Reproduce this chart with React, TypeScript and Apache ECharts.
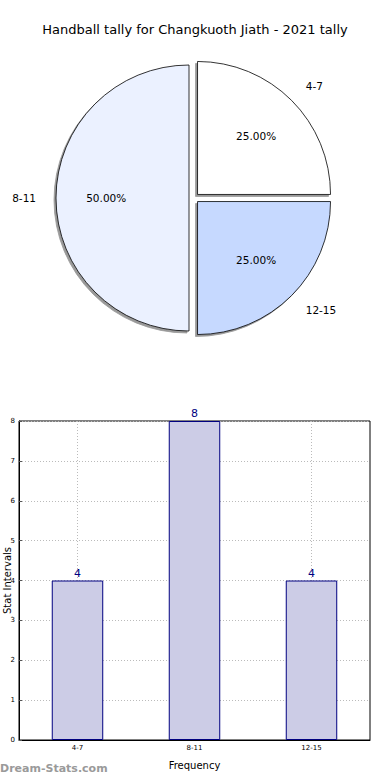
import React, { useEffect, useRef } from "react";
import * as echarts from "echarts";

const categories = ["4-7", "8-11", "12-15"];
const counts = [4, 8, 4];
const pieColors = ["#ffffff", "#ebf1ff", "#c6d9ff"];
const yTicks = [0, 1, 2, 3, 4, 5, 6, 7, 8];
const titleText = "Handball tally for Changkuoth Jiath - 2021 tally";

export default function App() {
  const ref = useRef<HTMLDivElement>(null);
  useEffect(() => {
    document.body.style.margin = "0";
    const chart = echarts.init(ref.current!, null, { renderer: "svg" });
    const font = "DejaVu Sans";
    const total = counts.reduce((a, b) => a + b, 0);
    const R = 133;
    const pieData = categories.map((c, i) => ({
      name: c,
      value: counts[i],
      selected: true,
      itemStyle: { color: pieColors[i] },
    }));
    chart.setOption({
      animation: false,
      textStyle: { fontFamily: font },
      title: {
        text: titleText,
        left: "center",
        top: 18,
        textStyle: { fontFamily: font, fontSize: 13, fontWeight: "normal", color: "#000" },
      },
      grid: {
        left: 19,
        right: 20,
        top: 421,
        bottom: 40,
        show: true,
        borderColor: "#000",
        borderWidth: 1,
        containLabel: false,
        outerBoundsMode: "none",
      },
      xAxis: {
        type: "category",
        data: categories,
        name: "Frequency",
        nameLocation: "middle",
        nameGap: 20,
        nameTextStyle: { fontFamily: font, fontSize: 10, color: "#000" },
        axisLine: { lineStyle: { color: "#000" } },
        axisTick: { show: true, alignWithLabel: true, inside: true, length: 3, lineStyle: { color: "#555" } },
        axisLabel: { fontFamily: font, fontSize: 7, color: "#000", margin: 4 },
        splitLine: { show: true, alignWithLabel: true, lineStyle: { color: "#bbb", type: [1, 2], width: 1 } },
      },
      yAxis: {
        type: "value",
        min: yTicks[0],
        max: yTicks[yTicks.length - 1],
        interval: 1,
        name: "Stat Intervals",
        nameLocation: "middle",
        nameGap: 7,
        nameMoveOverlap: false,
        nameTextStyle: { fontFamily: font, fontSize: 10, color: "#000" },
        axisLine: { show: true, lineStyle: { color: "#000" } },
        axisTick: { show: true, inside: true, length: 3, lineStyle: { color: "#555" } },
        axisLabel: { fontFamily: font, fontSize: 7, color: "#000", margin: 4 },
        splitLine: { show: true, lineStyle: { color: "#bbb", type: [1, 2], width: 1 } },
      },
      series: [
        {
          type: "pie",
          center: [194, 198],
          radius: [0, R],
          startAngle: 0,
          clockwise: false,
          selectedMode: "multiple",
          selectedOffset: 5,
          avoidLabelOverlap: false,
          silent: true,
          data: pieData,
          itemStyle: {
            borderColor: "#000",
            borderWidth: 0.8,
            shadowColor: "rgba(0,0,0,0.4)",
            shadowBlur: 0,
            shadowOffsetX: -2,
            shadowOffsetY: 2,
          },
          label: {
            show: true,
            position: "outside",
            formatter: "{b}",
            fontFamily: font,
            fontSize: 10.5,
            color: "#000",
            distanceToLabelLine: 0,
          },
          labelLine: { show: false, length: 20, length2: 0 },
          emphasis: { disabled: true },
        },
        {
          type: "pie",
          center: [194, 198],
          radius: [R * 0.2, R],
          startAngle: 0,
          clockwise: false,
          selectedMode: "multiple",
          selectedOffset: 5,
          silent: true,
          data: pieData.map((d) => ({ ...d, itemStyle: { color: "rgba(0,0,0,0)" } })),
          itemStyle: { borderWidth: 0 },
          label: {
            show: true,
            position: "inside",
            formatter: (p: any) => ((p.value / total) * 100).toFixed(2) + "%",
            fontFamily: font,
            fontSize: 10.5,
            color: "#000",
          },
          labelLine: { show: false },
          emphasis: { disabled: true },
        },
        {
          type: "bar",
          data: counts,
          barWidth: "44%",
          itemStyle: { color: "#ccccE6", borderColor: "#000080", borderWidth: 1 },
          label: {
            show: true,
            position: "top",
            distance: 2,
            fontFamily: font,
            fontSize: 11,
            color: "#000080",
          },
          emphasis: { disabled: true },
        },
      ],
      graphic: [
        {
          type: "text",
          left: 0,
          top: 763,
          style: {
            text: "Dream-Stats.com",
            fontFamily: font,
            fontSize: 11,
            fontWeight: "bold",
            fill: "#9a9a9a",
          },
        },
      ],
    });
    return () => chart.dispose();
  }, []);
  return <div ref={ref} style={{ width: 390, height: 780 }} />;
}
